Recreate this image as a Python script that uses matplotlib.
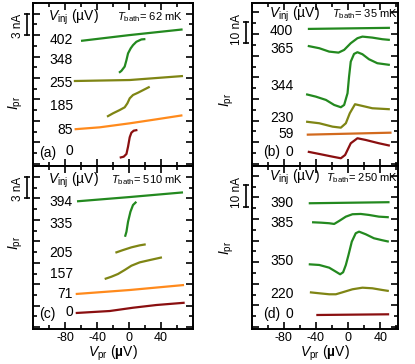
import matplotlib
matplotlib.use('Agg')
from matplotlib import pyplot as plt
from matplotlib.ticker import MultipleLocator, NullFormatter

plt.rcParams['font.family'] = ['Liberation Sans', 'DejaVu Sans']
plt.rcParams['mathtext.fontset'] = 'custom'
plt.rcParams['mathtext.rm'] = 'Liberation Sans'
plt.rcParams['mathtext.it'] = 'Liberation Sans:italic'
plt.rcParams['mathtext.bf'] = 'Liberation Sans:bold'
plt.rcParams['axes.unicode_minus'] = False

GREEN = '#23891f'
OLIVE = '#7f8514'
ORANGE = '#ff8a1c'
ORANGE_DARK = '#d26a1e'
RED = '#8a0f10'

# ---- panel (a), T = 62 mK, current in nA (offset curves)
a_labels = ['402', '348', '255', '185', '85', '0']
a_label_y = [17.3, 14.5, 11.3, 8.1, 4.7, 1.8]
a_colors = [GREEN, GREEN, OLIVE, OLIVE, ORANGE, RED]
a_v = [
    [-60, 0, 67],
    [-12.5, -9.5, -5.4, -3.2, -1.2, 2.1, 5, 9.2, 15.5, 20.5],
    [-69, 1, 67.5],
    [-27.5, -20, -11.6, -5.4, -2, 0.9, 5, 11.2, 19.6, 25.9],
    [-68, -36.6, 0.9, 34.2, 66.8],
    [-11.6, -6.6, -3.2, -1.2, 0.9, 3, 5.9, 10.5],
]
a_i = [
    [17.2, 18.0, 18.8],
    [12.74, 13.0, 13.6, 14.5, 15.45, 16.15, 16.6, 17.07, 17.4, 17.45],
    [11.58, 11.72, 12.28],
    [6.59, 7.06, 7.52, 7.9, 8.46, 9.16, 9.62, 9.94, 10.42, 10.78],
    [4.83, 5.1, 5.66, 6.22, 6.78],
    [0.85, 0.99, 1.37, 2.39, 3.71, 4.35, 4.63, 4.73],
]

# ---- panel (b), T = 35 mK
b_labels = ['400', '365', '344', '230', '59', '0']
b_label_y = [61.6, 53.0, 36.0, 21.3, 13.7, 5.6]
b_colors = [GREEN, GREEN, GREEN, OLIVE, ORANGE_DARK, RED]
b_v = [
    [-50, 52],
    [-50.1, -35.8, -23.5, -11.9, -4.9, 3.3, 11.6, 17.8, 30.1, 42.5, 51.9],
    [-52.2, -40, -27.5, -17.3, -9, -4.9, -0.7, 1.2, 3.3, 7.4, 11.6, 17.8, 25.9, 36.3, 51.9],
    [-52.2, -35.8, -19.3, -9, -2.8, 2.1, 8.6, 17.8, 30.1, 51.9],
    [-51.4, 54],
    [-50.1, -35.8, -19.3, -9, -3.7, 3.3, 11.6, 21.9, 38.3, 51.9],
]
b_i = [
    [62.4, 62.9],
    [54.54, 53.47, 51.9, 51.44, 52.69, 55.79, 58.1, 58.84, 58.38, 57.64, 57.31],
    [32.18, 31.06, 29.54, 27.22, 26.16, 27.22, 32.64, 40.32, 47.27, 50.83, 51.62, 50.69, 48.38, 46.53, 45.74],
    [19.49, 18.75, 17.18, 16.71, 18.75, 23.38, 27.55, 26.76, 25.69, 25.23],
    [13.47, 14.4],
    [5.6, 4.54, 3.29, 2.55, 4.07, 9.49, 11.81, 11.02, 9.49, 8.38],
]

# ---- panel (c), T = 510 mK
c_labels = ['394', '335', '205', '157', '71', '0']
c_label_y = [17.5, 14.4, 10.3, 7.5, 4.6, 2.15]
c_colors = [GREEN, GREEN, OLIVE, OLIVE, ORANGE, RED]
c_v = [
    [-65, 0.9, 67.5],
    [-5, -3.2, -1.2, 1.8, 5, 9.2],
    [-17, -7.5, 3, 13.4, 20.9],
    [-30.4, -22, -13.8, -5.4, 3, 13.4, 25.9, 41.2],
    [-66.6, 0.9, 68.8],
    [-66.6, -24.1, 5, 34.2, 69.6],
]
c_i = [
    [17.6, 18.2, 18.85],
    [12.64, 13.34, 14.74, 16.14, 17.08, 17.54],
    [10.41, 10.78, 11.16, 11.44, 11.58],
    [6.73, 7.05, 7.43, 7.99, 8.59, 9.06, 9.38, 9.76],
    [4.63, 5.19, 5.89],
    [1.97, 2.25, 2.71, 3.09, 3.41],
]

# ---- panel (d), T = 250 mK
d_labels = ['390', '385', '350', '220', '0']
d_label_y = [57.3, 48.0, 30.6, 15.2, 5.9]
d_colors = [GREEN, GREEN, GREEN, OLIVE, RED]
d_v = [
    [-48.9, 51.5],
    [-44.8, -33.7, -23.5, -17.3, -11.1, -2.8, 5.4, 15.7, 25.9, 38.3, 50.6],
    [-48.9, -35.8, -23.5, -15.2, -9.9, -6.2, -2.8, 0.5, 4.6, 9.5, 13.6, 21.9, 32.1, 42.5, 50.6],
    [-47.5, -35.8, -23.5, -15.2, -6.9, 5.4, 17.8, 30.1, 42.5, 50.6],
    [-39.5, 51],
]
d_i = [
    [57.3, 57.8],
    [48.52, 48.33, 48.06, 47.73, 49.12, 51.11, 52.22, 52.36, 51.9, 51.11, 50.83],
    [29.07, 28.75, 27.5, 25.65, 24.44, 25.37, 28.75, 33.38, 39.54, 43.43, 44.17, 42.96, 41.11, 40.19, 39.54],
    [16.11, 15.65, 15.19, 15.19, 16.11, 17.5, 18.24, 17.96, 17.18, 16.71],
    [5.6, 5.93],
]

x_ticks = [-80, -40, 0, 40]

fig = plt.figure(figsize=(4.15, 3.64), dpi=100)

# axes rectangles in figure fraction
left_l, left_w = 33 / 415, 160 / 415
right_l, right_w = 251.5 / 415, 146.5 / 415
top_b, bot_b, h = 0.544, 0.0953, 0.4478

panels = [
    # name, rect, temp, labels, label_y, colors, v, i, ylim, major, scale, bottom, xlim
    ('(a)', [left_l, top_b, left_w, h], '62', a_labels, a_label_y, a_colors, a_v, a_i,
     (-0.31, 22.5), 3, '3 nA', False, (-120, 80)),
    ('(b)', [right_l, top_b, right_w, h], '35', b_labels, b_label_y, b_colors, b_v, b_i,
     (-1.02, 74.4), 10, '10 nA', False, (-120, 62)),
    ('(c)', [left_l, bot_b, left_w, h], '510', c_labels, c_label_y, c_colors, c_v, c_i,
     (-0.31, 22.5), 3, '3 nA', True, (-120, 80)),
    ('(d)', [right_l, bot_b, right_w, h], '250', d_labels, d_label_y, d_colors, d_v, d_i,
     (-1.02, 74.4), 10, '10 nA', True, (-120, 62)),
]

for name, rect, temp, labels, label_y, colors, vv, ii, ylim, major, scale, bottom, xlim in panels:
    ax = fig.add_axes(rect)
    for v, cur, col in zip(vv, ii, colors):
        ax.plot(v, cur, color=col, lw=1.6, solid_capstyle='butt')
    ax.set_xlim(*xlim)
    ax.set_ylim(*ylim)
    right_side = name in ('(b)', '(d)')

    # curve labels
    lab_x = -68 if right_side else -70
    for txt, y in zip(labels, label_y):
        ax.text(lab_x, y, txt, ha='right', va='center', fontsize=10)

    ax.text(-106 if right_side else -112, label_y[-1] - (0 if right_side else 0.3),
            name, ha='left', va='center', fontsize=10)
    ax.text(-98 if right_side else -101, ylim[1] * (0.93 if right_side else 0.912),
            r'$V_{\rm inj}$ (µV)', ha='left', va='center', fontsize=10)
    ax.text(61.5 if right_side else 67, ylim[1] * (0.928 if right_side else 0.912),
            r'$T_{\rm bath}$= ' + temp + ' mK', ha='right', va='center', fontsize=8)

    # scale bar outside the axes
    if right_side:
        y0 = 55.8 if name == '(b)' else 55.6
        bx, tx, ty = -127, -138.5, y0 + 6.5
    else:
        y0 = 18
        bx, tx, ty = -128, -139, 19.3
    ax.plot([bx, bx], [y0, y0 + major], color='black', lw=1.2, clip_on=False)
    ax.plot([bx, bx], [y0, y0 + major], color='black', lw=0, marker='_',
            ms=5, mew=1.2, clip_on=False)
    ax.text(tx, ty, scale, rotation=90, ha='center', va='center', fontsize=8.5,
            clip_on=False)

    # y label
    ylab_y = {'(a)': 0.39, '(b)': 0.405, '(c)': 0.53, '(d)': 0.50}[name]
    ylab_x = -0.11 if not right_side else -0.165
    ax.text(ylab_x, ylab_y, r'$I_{\rm pr}$', rotation=90, ha='center', va='center',
            fontsize=10, transform=ax.transAxes)

    ax.xaxis.set_major_locator(plt.FixedLocator(x_ticks))
    ax.xaxis.set_minor_locator(MultipleLocator(20))
    ax.yaxis.set_major_locator(MultipleLocator(major))
    ax.yaxis.set_minor_locator(MultipleLocator(major / 2))
    ax.tick_params(which='both', direction='in', top=True, right=True, width=1.2)
    ax.tick_params(which='major', length=5, labelsize=9, pad=2)
    ax.tick_params(which='minor', length=3)
    ax.yaxis.set_major_formatter(NullFormatter())
    if not bottom:
        ax.xaxis.set_major_formatter(NullFormatter())
    else:
        ax.set_xlabel(r'$V_{\rm pr}$ ($\mathbf{µ}$V)', fontsize=10, labelpad=0)
    for sp in ax.spines.values():
        sp.set_linewidth(1.4)

fig.savefig('out.png', dpi=100)
